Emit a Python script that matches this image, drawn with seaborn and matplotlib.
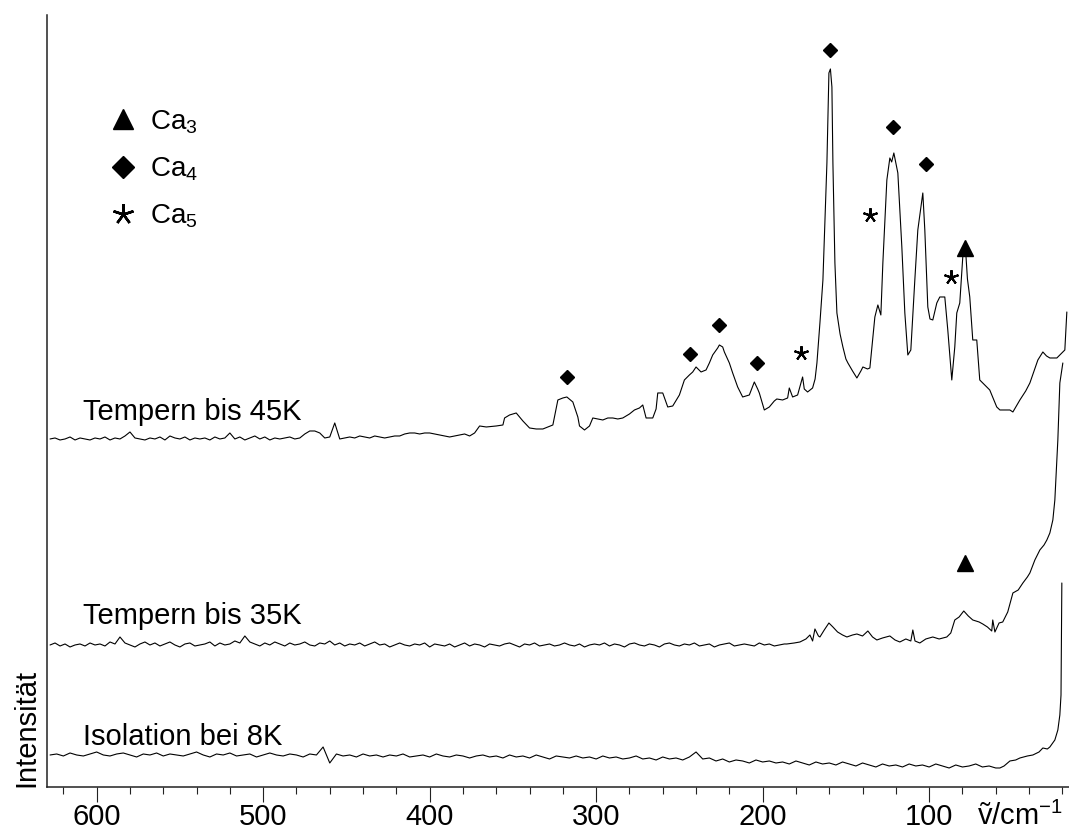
import numpy as np
import pandas as pd
import matplotlib
matplotlib.use("Agg")
import matplotlib.pyplot as plt
import seaborn as sns
from matplotlib.lines import Line2D
from matplotlib.ticker import MultipleLocator

sns.set_theme(style="ticks")
plt.rcParams['font.family'] = ['Liberation Sans', 'DejaVu Sans']
plt.rcParams['mathtext.fontset'] = 'custom'
plt.rcParams['mathtext.rm'] = 'Liberation Sans'
plt.rcParams['mathtext.default'] = 'regular'
plt.rcParams['text.color'] = 'black'
plt.rcParams['axes.labelcolor'] = 'black'
plt.rcParams['xtick.color'] = 'black'
plt.rcParams['xtick.labelcolor'] = 'black'

# ---------------- data (arbitrary intensity units) ----------------
labels = ["Tempern bis 45K", "Tempern bis 35K", "Isolation bei 8K"]
offsets = [348, 142, 32]

# Tempern bis 45K : noisy baseline sampled every 3 cm-1 from 628 cm-1
k45_noise_start = 628
k45_noise_step = 3
k45_noise = [0, 1, -1, 0, 2, -1, 1, 0, -1, 1,
             0, 2, -1, 1, 0, 3, 7, 1, 0, -1,
             1, 0, 2, -1, 3, 1, 0, 2, -1, 1,
             0, 1, -1, 2, 0, 1, 6, 0, 2, -1,
             1, 3, 0, 2, -1, 1, 0, 1, 2, 0,
             1, 5, 8, 8, 6, 1, 2, 16, 0, 1,
             2, 1, 3, 2, 1, 3, 2, 1, 2, 3,
             3, 5, 6, 6, 5, 6, 6, 5, 4, 3,
             2, 3, 4, 5, 3, 6]
k45_x = [370, 366, 360, 356, 355, 352, 348, 344, 340, 336, 332, 329, 326, 323, 320,
         317.6, 314, 311, 310, 307, 304, 302, 299, 296, 293, 290, 287, 284, 280, 277,
         274, 272, 270, 266, 264, 263, 260, 257, 254, 250, 247, 244, 242, 240, 237,
         234, 232, 230, 227, 226, 224, 223, 220, 218, 215, 212, 210, 208, 205, 203,
         202, 199, 196, 193, 191.5, 188, 185, 184, 182, 179, 176, 175, 173, 170, 168.5,
         167.4, 165.6, 163.8, 161.4, 160.2, 159.3, 158.4, 157.8, 156.6, 155.4, 153.5, 151.8, 150, 148.8, 146,
         143.4, 141, 139.8, 137, 135.6, 132.6, 130.8, 129, 127.8, 125.4, 123.6, 122.5, 121.2, 118.8, 116.4,
         114.6, 112.8, 111, 108.6, 106.8, 103.8, 102.6, 100.8, 99.5, 97.8, 95.4, 93.6, 90.6, 88.8, 86.4,
         84.6, 83.4, 81.6, 79.8, 78.8, 78, 77, 75.6, 73.8, 71.4, 69.6, 67.8, 63.6, 59.4, 57.5,
         54, 51.5, 49.7, 45.5, 42, 39.5, 34.7, 31.7, 29.5, 27.5, 23.3, 20.3, 18.5, 17.3]
k45_y = [13, 12, 13, 14, 21, 24, 26, 18, 11, 10, 10, 12, 14, 39, 41,
         42, 37, 22, 13, 9, 13, 21, 20, 19, 21, 21, 20, 21, 25, 29,
         31, 34, 21, 21, 30, 46, 46, 32, 33, 44, 59, 64, 67, 72, 67,
         69, 76, 84, 91, 94, 92, 87, 76, 66, 52, 42, 43, 44, 57, 50,
         46, 29, 32, 38, 40, 39, 41, 51, 42, 44, 62, 50, 47, 51, 60,
         76, 116, 159, 276, 366, 370, 352, 276, 176, 126, 105, 92, 80, 76, 68,
         61, 68, 72, 70, 71, 122, 134, 124, 176, 259, 281, 277, 286, 266, 192,
         126, 84, 89, 159, 209, 246, 209, 132, 120, 119, 136, 142, 142, 109, 59,
         92, 126, 136, 182, 187, 186, 160, 142, 99, 99, 59, 56, 49, 32, 29,
         29, 29, 27, 39, 48, 56, 79, 87, 83, 81, 81, 86, 89, 127]

# Tempern bis 35K : noisy baseline sampled every 3 cm-1 from 628 cm-1
k35_noise_start = 628
k35_noise_step = 3
k35_noise = [0, 2, -1, 1, -2, 0, 1, -1, 2, 0,
             1, -1, 3, 1, 8, 2, 0, -2, 1, 3,
             0, 2, -1, 1, 3, 0, -2, 1, 2, -1,
             0, 1, 3, -1, 2, 0, 1, 4, 2, 9,
             3, 1, -1, 2, 0, 3, 1, -1, 2, 0,
             1, 3, 0, -1, 2, 1, 4, 0, 2, -1,
             1, 0, 2, -1, 1, 3, 0, 1, -2, 0,
             2, 0, -1, 1, 0, 2, -2, 1, 0, -1,
             1, -2, 0, 2, -1, 1, 0, -2, 1, 0,
             -1, 1, 2, 0, -2, 1, 0, 2, -1, 0,
             1, -1, 0, 2, 0, -1, 1, -2, 0, 1,
             0, 2, -1, 1, 0, -2, 1, 2, 0, -1,
             1, 0, -2, 1, 2, 0, -1, 1, 0, 2,
             -1, 0, 1, -2, 0, 1, 2, -1, 0, 1,
             0, -1, 2, 0, 1, -1, 0, 1]
k35_x = [185.5, 181, 177.6, 174, 171.6, 170, 168.6, 166.5, 165.6, 163, 160.2, 157.8, 155, 152,
         149.4, 146, 143.4, 140, 136.8, 134, 131.4, 128, 123.6, 120.5, 117.6, 114, 111, 109.8,
         108.5, 105.6, 102, 97.8, 94, 89.4, 87, 84.6, 82, 79.2, 76.5, 73.8, 70, 67.8, 65, 62.4,
         61.8, 60.5, 58, 55.8, 52.8, 49.7, 46.5, 43.7, 41, 39.5, 36.5, 33.5, 31, 29.3, 27.5,
         25.7, 24.5, 22.7, 21.5, 19.7]
k35_y = [1, 2, 3, 6, 10, 4, 16, 9, 8, 15, 22, 18, 13, 10,
         8, 10, 11, 9, 14, 8, 5, 7, 9, 5, 3, 6, 4, 15,
         4, 2, 6, 8, 6, 8, 12, 25, 28, 34, 29, 25, 23, 21, 18, 14,
         25, 13, 22, 23, 33, 52, 55, 62, 68, 72, 85, 95, 100, 105, 112,
         125, 145, 205, 262, 282]

# Isolation bei 8K : noisy baseline sampled every 4 cm-1 from 628 cm-1
k8_noise_start = 628
k8_noise_step = 4
k8_noise = [0, 1, -1, 2, 0, -1, 1, 3, 0, -1,
            1, 2, 0, -2, 1, 0, 2, -1, 1, 0,
            -1, 1, 3, 0, -2, 1, 0, 2, -1, 0,
            1, -2, 0, 2, 0, -1, 1, 0, -2, 1,
            0, 8, -8, 1, -1, 0, -2, 1, -1, 0,
            -2, 0, -1, 1, -2, -1, 0, -2, 1, -1,
            -2, 0, -1, -3, -1, 0, -2, -1, -3, 0,
            -2, -1, -3, 0, -2, -4, -1, -2, -3, -1,
            -3, -2, -4, -1, -3, -2, -4, -3, -1, -4,
            -3, -5, -2, -4, -3, -5, -2, 3, -4, -3,
            -6, -4, -7, -5, -6, -8, -5, -7, -6, -8,
            -7, -9, -6, -8, -10, -7, -9, -8, -10, -7,
            -9, -11, -8, -10, -12, -9, -11, -10, -12, -9,
            -11, -10, -12, -9, -11, -13, -10, -12, -11, -9,
            -12, -11, -13]
k8_x = [57.5, 55, 51.5, 48, 45.5, 41, 37.7, 34, 31.7, 29, 27.5, 24.5, 22.7, 21.5, 20.8, 20.3]
k8_y = [-13, -11, -6, -5, -3, -1, 0, 3, 7, 6, 8, 15, 25, 40, 60, 172]

# peak assignments (wavenumber, height above the 45K / 35K baselines)
ca3_45_x, ca3_45_y = [78.6], [191]
ca3_35_x, ca3_35_y = [78.6], [82]
ca4_x = [317.4, 243.7, 226.3, 203.3, 159.6, 122.0, 101.8]
ca4_y = [62, 85, 114, 76, 389, 312, 275]
ca5_x = [176.8, 135.7, 86.7]
ca5_y = [86, 224, 162]

legend_labels = ["Ca$_3$", "Ca$_4$", "Ca$_5$"]
xticks_major = [600, 500, 400, 300, 200, 100]

# ---------------- assemble ----------------
def assemble(start, step, noise, fx, fy, off, name):
    nx = start - step * np.arange(len(noise))
    x = np.concatenate([nx, np.asarray(fx, float)])
    y = np.concatenate([np.asarray(noise, float), np.asarray(fy, float)]) + off
    return pd.DataFrame({"wn": x, "I": y, "spec": name})

df = pd.concat([
    assemble(k45_noise_start, k45_noise_step, k45_noise, k45_x, k45_y, offsets[0], labels[0]),
    assemble(k35_noise_start, k35_noise_step, k35_noise, k35_x, k35_y, offsets[1], labels[1]),
    assemble(k8_noise_start, k8_noise_step, k8_noise, k8_x, k8_y, offsets[2], labels[2]),
], ignore_index=True)

# ---------------- figure ----------------
fig = plt.figure(figsize=(10.69, 8.32), dpi=100)
ax = fig.add_axes([0.0437, 0.0541, 0.9563, 0.9279])

sns.lineplot(data=df, x="wn", y="I", hue="spec", units="spec", estimator=None,
             sort=False, palette=["black"] * 3, linewidth=0.8, legend=False, ax=ax)

ax.set_xlim(630, 16)
ax.set_ylim(0, 772)

# peak markers
ax.plot(ca3_45_x, np.array(ca3_45_y) + offsets[0], ls="none", marker="^", ms=12, color="black")
ax.plot(ca3_35_x, np.array(ca3_35_y) + offsets[1], ls="none", marker="^", ms=12, color="black")
ax.plot(ca4_x, np.array(ca4_y) + offsets[0], ls="none", marker="D", ms=7.2, color="black")
ax.plot(ca5_x, np.array(ca5_y) + offsets[0], ls="none", marker=(5, 2, 0), ms=10.5,
        mew=1.5, color="black")

# spectrum labels
ax.text(608.3, offsets[0] + 19, labels[0], fontsize=21, va="baseline", ha="left")
ax.text(608.3, offsets[1] + 21, labels[1], fontsize=21, va="baseline", ha="left")
ax.text(608.3, offsets[2] + 10, labels[2], fontsize=21, va="baseline", ha="left")

# legend
handles = [Line2D([0], [0], ls="none", marker="^", ms=15, color="black"),
           Line2D([0], [0], ls="none", marker="D", ms=11, color="black"),
           Line2D([0], [0], ls="none", marker=(5, 2, 0), ms=15, mew=1.8, color="black")]
ax.legend(handles, legend_labels, loc="upper left",
          bbox_to_anchor=(109.5 / 1069, (832 - 108) / 832), bbox_transform=fig.transFigure,
          frameon=False, fontsize=20, handlelength=0.95, handletextpad=0.5,
          labelspacing=0.72, borderpad=0, borderaxespad=0, labelcolor="black")

# axes styling
sns.despine(ax=ax, top=True, right=True)
for s in ["left", "bottom"]:
    ax.spines[s].set_color("#222222")
    ax.spines[s].set_linewidth(1.1)
ax.set_yticks([])
ax.set_xticks(xticks_major)
ax.set_xticklabels([str(t) for t in xticks_major])
ax.xaxis.set_minor_locator(MultipleLocator(20))
ax.tick_params(axis="x", which="major", direction="out", length=10.8, width=0.8,
               labelsize=21, pad=0.5, color="#222222")
ax.tick_params(axis="x", which="minor", direction="out", length=5, width=0.8, color="#222222")

ax.set_xlabel("ṽ/cm$^{-1}$", fontsize=21, ha="right", va="baseline")
ax.xaxis.set_label_coords(0.994, -0.049)
ax.set_ylabel("Intensität", fontsize=21, loc="bottom")
ax.yaxis.set_label_coords(-0.006, 0)

fig.savefig("out.png", dpi=100)
